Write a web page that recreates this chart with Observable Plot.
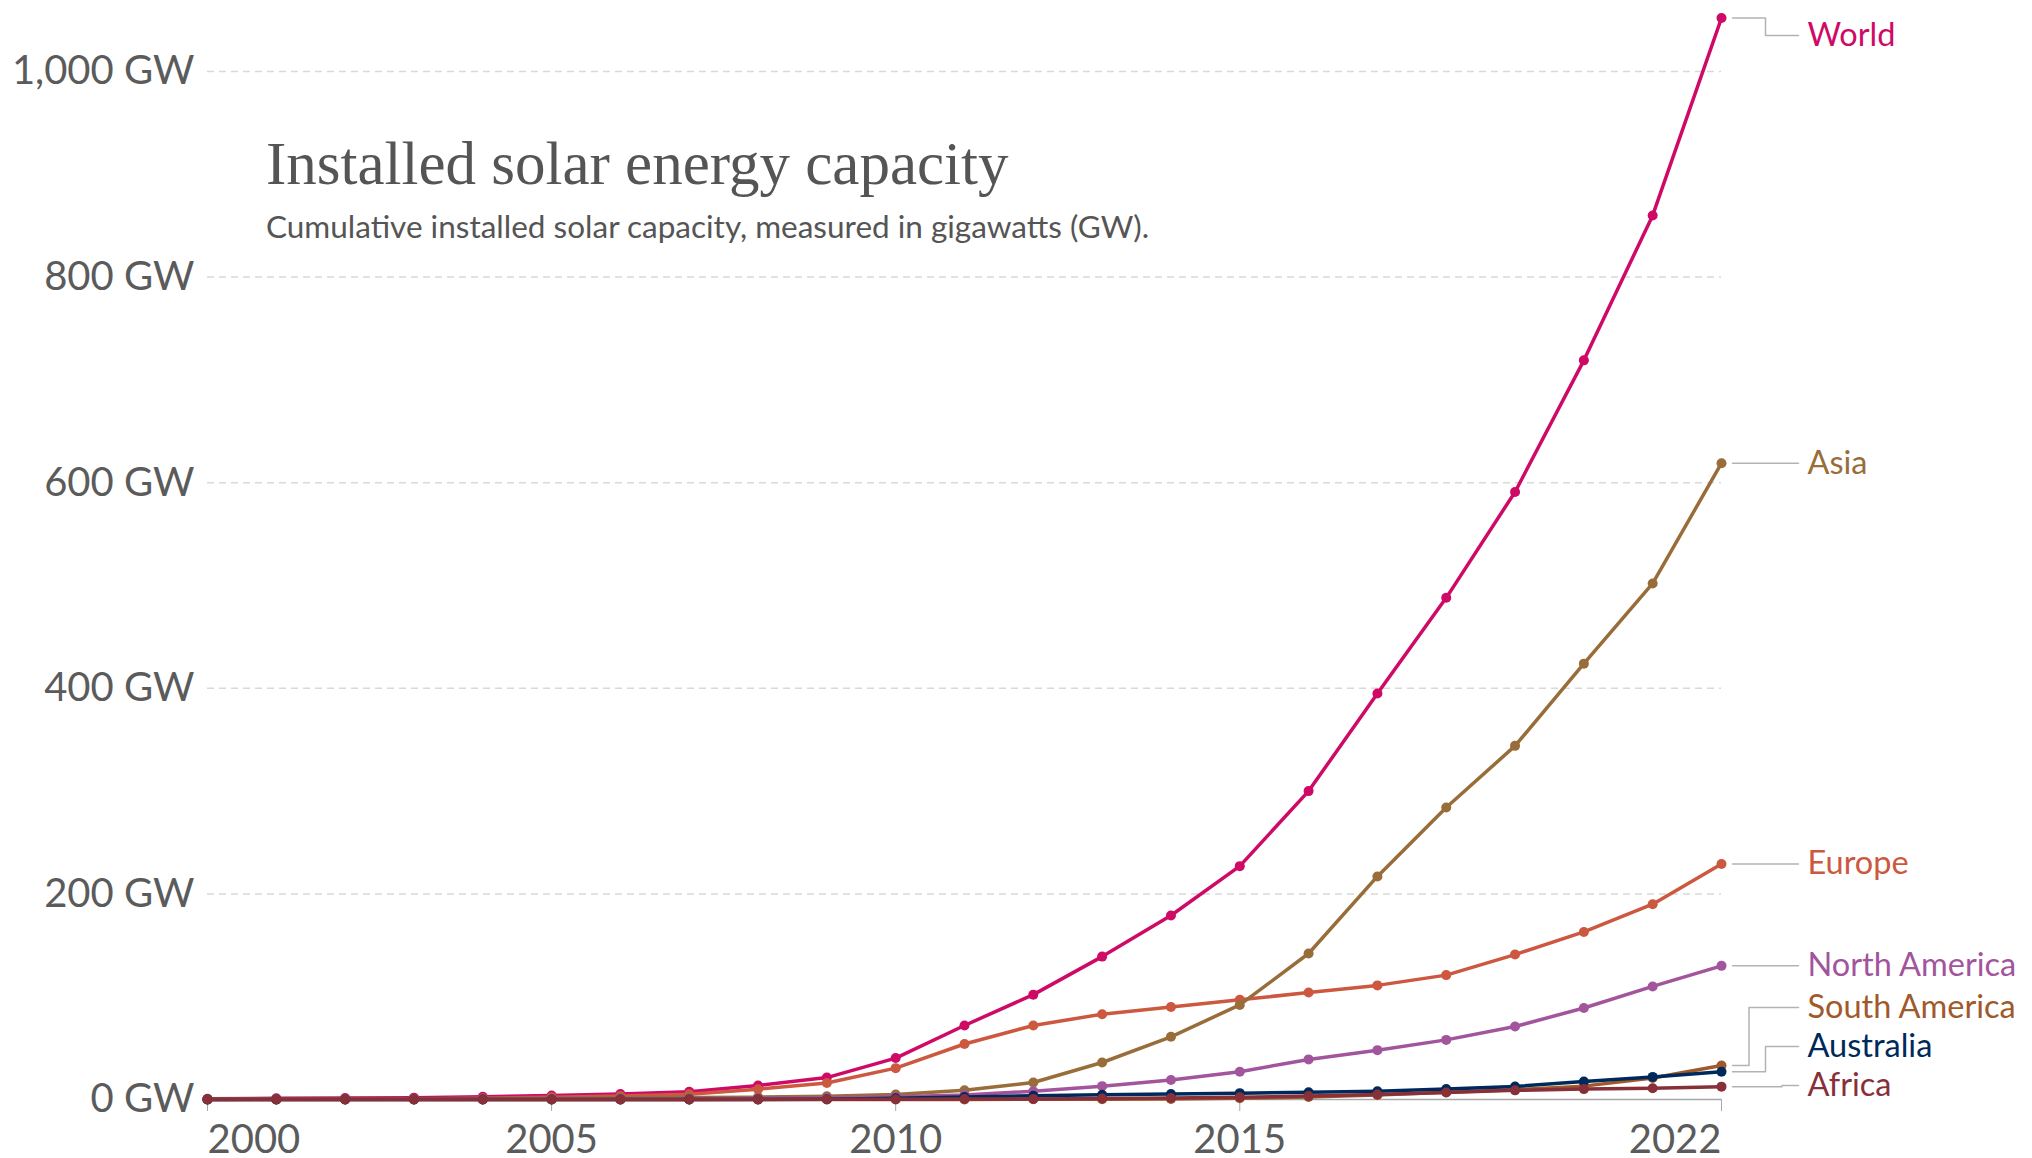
<!DOCTYPE html>
<html><head><meta charset="utf-8">
<script src="https://cdn.jsdelivr.net/npm/d3@7"></script>
<script src="https://cdn.jsdelivr.net/npm/@observablehq/plot@0.6"></script>
<style>
html,body{margin:0;padding:0;background:#fff;}
#chart{position:relative;width:2032px;height:1158px;overflow:hidden;}
</style></head><body><div id="chart"></div>
<script>
const years = [2000,2001,2002,2003,2004,2005,2006,2007,2008,2009,2010,2011,2012,2013,2014,2015,2016,2017,2018,2019,2020,2021,2022];
const seriesNames = ["World","Europe","Asia","North America","South America","Australia","Africa"];
const seriesColors = ["#CF0A66","#CC5840","#996D39","#A2559C","#A0592B","#00295B","#883039"];
const world = [0.8,1.1,1.4,1.8,2.7,3.9,5.3,7.6,13.7,21.3,40.3,72,102,139,179,227,300,395,488,591,719,860,1052];
const europe = [0.2,0.3,0.4,0.6,1.3,2.3,3.3,5.0,10.0,16.0,30.5,54,72,83,90,97,104,111,121,141,163,190,229];
const asia = [0.4,0.5,0.6,0.8,1.0,1.3,1.6,1.9,2.3,3.1,4.9,9.0,16.5,36,61,92,142,217,284,344,424,502,619];
const northAmerica = [0.1,0.15,0.2,0.3,0.4,0.5,0.6,0.8,1.2,1.6,2.6,4.4,8.0,13.0,19.0,27,39,48,58,71,89,110,130];
const southAmerica = [0,0,0,0,0,0,0.01,0.02,0.03,0.05,0.1,0.1,0.2,0.3,0.6,1.2,2.4,4.3,7.0,9.6,13,21,33];
const australia = [0.03,0.04,0.05,0.05,0.05,0.06,0.07,0.08,0.1,0.2,1.1,2.4,3.6,4.6,5.3,6.2,7.0,8.0,10.3,12.7,17.5,22,27];
const africa = [0.03,0.04,0.05,0.06,0.07,0.08,0.1,0.1,0.15,0.2,0.3,0.4,0.6,0.9,1.4,2.2,3.4,4.8,6.8,8.9,10.1,11,12.5];
const yTicks = [0,200,400,600,800,1000];
const xTicks = [2000,2005,2010,2015,2022];
const titleText = "Installed solar energy capacity";
const subtitleText = "Cumulative installed solar capacity, measured in gigawatts (GW).";

const seriesValues = [world, europe, asia, northAmerica, southAmerica, australia, africa];
const long = [];
seriesNames.forEach((s, i) => years.forEach((y, j) => long.push({series: s, year: y, value: seriesValues[i][j]})));

const W = 2032, H = 1158;
const common = {
  width: W, height: H,
  marginLeft: 207, marginRight: 311, marginTop: 71, marginBottom: 59,
  x: {domain: [2000, 2022], axis: null},
  y: {domain: [0, 1000], axis: null},
  color: {domain: seriesNames, range: seriesColors},
  style: {fontFamily: "Lato, sans-serif", background: "white", color: "#5b5b5b", overflow: "visible"}
};

function baseMarks() {
  const m = [
    Plot.ruleY(yTicks.filter(d => d > 0), {stroke: "#d9d9d9", strokeWidth: 1.5, strokeDasharray: "7,5"}),
    Plot.ruleY([0], {stroke: "#a8a8a8", strokeWidth: 1.5}),
    Plot.axisY({ticks: yTicks, tickSize: 0, tickPadding: 13, fontSize: 40, label: null,
      tickFormat: d => d3.format(",")(d) + " GW"}),
    Plot.axisX({ticks: xTicks, tickSize: 12, tickPadding: 0, label: null, stroke: "#a8a8a8", tickFormat: () => ""}),
    Plot.text(xTicks.slice(0,1), {x: d => d, frameAnchor: "bottom", dy: 53, fontSize: 40, textAnchor: "start", text: d => String(d)}),
    Plot.text(xTicks.slice(1,-1), {x: d => d, frameAnchor: "bottom", dy: 53, fontSize: 40, textAnchor: "middle", text: d => String(d)}),
    Plot.text(xTicks.slice(-1), {x: d => d, frameAnchor: "bottom", dy: 53, fontSize: 40, textAnchor: "end", text: d => String(d)})
  ];
  seriesNames.forEach(s => {
    const d = long.filter(r => r.series === s);
    m.push(Plot.line(d, {x: "year", y: "value", stroke: "series", strokeWidth: 3.5}));
    m.push(Plot.dot(d, {x: "year", y: "value", fill: "series", r: 5}));
  });
  return m;
}

// first pass to obtain scales
const probe = Plot.plot({...common, marks: baseMarks()});
const sx = probe.scale("x"), sy = probe.scale("y");
const xs = d3.scaleLinear().domain(sx.domain).range(sx.range);
const ys = d3.scaleLinear().domain(sy.domain).range(sy.range);

// label placement (dodge in pixel space)
const gap = 39, topBound = 35, bottomBound = 1085;
const labels = seriesNames.map((s, i) => {
  const v = seriesValues[i][seriesValues[i].length - 1];
  return {series: s, value: v, py: ys(v), ly: Math.min(Math.max(ys(v), topBound), bottomBound)};
}).sort((a, b) => a.py - b.py);
for (let iter = 0; iter < 20; iter++) {
  for (let i = 1; i < labels.length; i++) if (labels[i].ly < labels[i-1].ly + gap) labels[i].ly = labels[i-1].ly + gap;
  if (labels[labels.length-1].ly > bottomBound) labels[labels.length-1].ly = bottomBound;
  for (let i = labels.length - 2; i >= 0; i--) if (labels[i].ly > labels[i+1].ly - gap) labels[i].ly = labels[i+1].ly - gap;
  if (labels[0].ly < topBound) labels[0].ly = topBound;
}
const xEndPx = xs(2022);
const startPx = xEndPx + 11, endPx = xEndPx + 77;
const conn = [];
[-1, 1].forEach(sign => {
  const grp = labels.filter(l => Math.sign(l.ly - l.py) === sign && Math.abs(l.ly - l.py) > 0.5)
    .sort((a, b) => Math.abs(b.ly - b.py) - Math.abs(a.ly - a.py));
  grp.forEach((l, k) => { l.ex = startPx + (endPx - startPx) * (k + 1) / (grp.length + 1); });
});
labels.forEach(l => {
  const pts = l.ex !== undefined
    ? [[startPx, l.py], [l.ex, l.py], [l.ex, l.ly], [endPx, l.ly]]
    : [[startPx, l.ly], [endPx, l.ly]];
  pts.forEach(p => conn.push({series: l.series, x: xs.invert(p[0]), y: ys.invert(p[1])}));
  l.x = 2022; l.yv = ys.invert(l.ly);
});

const marks = baseMarks();
marks.push(Plot.line(conn, {x: "x", y: "y", z: "series", stroke: "#b3b3b3", strokeWidth: 1.5}));
marks.push(Plot.text(labels, {x: "x", y: "yv", text: "series", fill: "series", textAnchor: "start", dx: 86, fontSize: 32.5}));

const plot = Plot.plot({...common, marks});
document.getElementById("chart").appendChild(plot);

const svg = d3.select(plot);
svg.append("text").attr("x", 266).attr("y", 184).attr("text-anchor", "start")
  .attr("font-family", "'Liberation Serif', 'DejaVu Serif', serif").attr("font-size", 61)
  .attr("fill", "#555555").text(titleText);
svg.append("text").attr("x", 266).attr("y", 238).attr("text-anchor", "start")
  .attr("font-family", "Lato, sans-serif").attr("font-size", 31.5)
  .attr("fill", "#555555").text(subtitleText);
</script></body></html>
